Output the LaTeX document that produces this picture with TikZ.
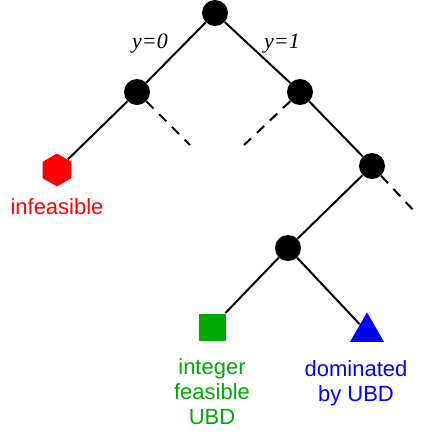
\documentclass[tikz,border=0pt]{standalone}
\usepackage{fontspec}
\setmainfont{Liberation Sans}
\newfontfamily\labelfont{Liberation Serif}
\usetikzlibrary{shapes.geometric}
\definecolor{infred}{RGB}{255,0,0}
\definecolor{ubdgreen}{RGB}{0,170,0}
\definecolor{domblue}{RGB}{0,0,255}
\tikzset{
  bbnode/.style={circle,fill=black,inner sep=0pt,minimum size=13pt},
  branch/.style={line width=1pt},
  pruned/.style={line width=1pt,dashed,dash pattern=on 5pt off 4pt},
  note/.style={font=\fontsize{11}{12.5}\selectfont,align=center}
}
\begin{document}
\begin{tikzpicture}[x=0.5pt,y=-0.5pt]
    \useasboundingbox (0,0) rectangle (420,435);
    % tree nodes
    \node[bbnode] (root) at (215,13) {};
    \node[bbnode] (left) at (137,92) {};
    \node[bbnode] (right) at (300,92) {};
    \node[bbnode] (rright) at (372,166) {};
    \node[bbnode] (low) at (288,248) {};
    % leaves
    \node[regular polygon,regular polygon sides=6,regular polygon rotate=30,fill=infred,inner sep=0pt,minimum size=16.5pt] (infeas) at (57,170) {};
    \node[rectangle,fill=ubdgreen,inner sep=0pt,minimum size=13.5pt] (intfeas) at (212,327) {};
    \node[regular polygon,regular polygon sides=3,fill=domblue,inner sep=0pt,minimum size=19.6pt] (domin) at (367,332) {};
    % open ends of the dashed branches
    \coordinate (leftend) at (190,145);
    \coordinate (rightend) at (244,145);
    \coordinate (rrend) at (415,212);
    % branches
    \draw[branch] (root) -- (left);
    \draw[branch] (root) -- (right);
    \draw[branch] (left) -- (infeas);
    \draw[branch] (right) -- (rright);
    \draw[branch] (rright) -- (low);
    \draw[branch] (low) -- (intfeas);
    \draw[branch] (low) -- (domin);
    \draw[pruned] (left) -- (leftend);
    \draw[pruned] (right) -- (rightend);
    \draw[pruned] (rright) -- (rrend);
    % labels
    \node[note,font=\labelfont\itshape\fontsize{11}{12.5}\selectfont] (yzero) at (150,44) {y=0};
    \node[note,font=\labelfont\itshape\fontsize{11}{12.5}\selectfont] (yone) at (282,44) {y=1};
    \node[note,text=infred] (infeastext) at (57,207) {infeasible};
    \node[note,text=ubdgreen] (intfeastext) at (212,392) {integer\\feasible\\UBD};
    \node[note,text=domblue] (domintext) at (356,383) {dominated\\by UBD};
\end{tikzpicture}
\end{document}
